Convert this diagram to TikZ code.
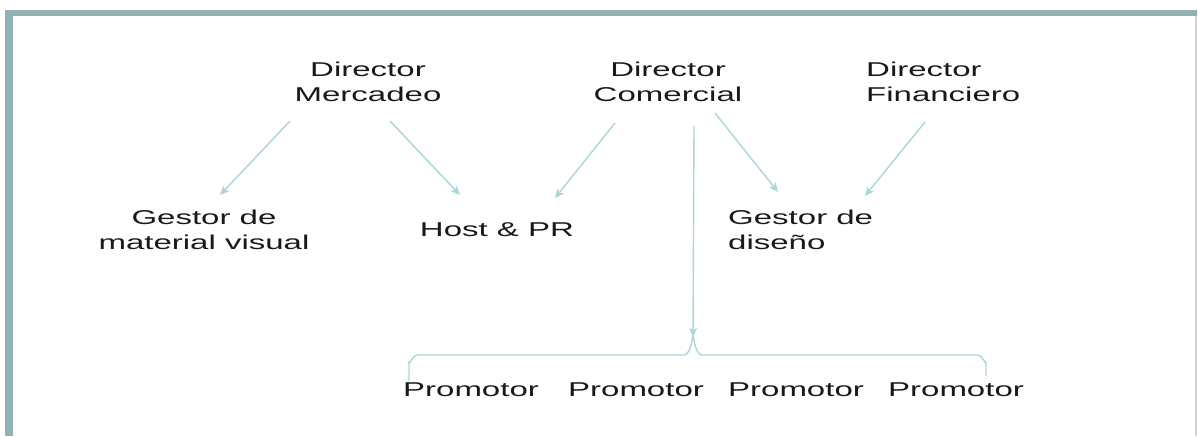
\documentclass[tikz,border=0pt]{standalone}
\usepackage{fontspec}
\setmainfont{Liberation Sans}[FakeStretch=1.65]
\usetikzlibrary{arrows.meta}
\definecolor{framec}{HTML}{92B1B4}
\definecolor{linkc}{HTML}{A9D7DC}

\begin{document}
\begin{tikzpicture}[x=1pt,y=-1pt,
  lbl/.style={inner sep=0pt,text=black!90,font=\fontsize{20}{25}\selectfont},
  link/.style={draw=linkc,line width=1.4pt,-{Stealth[length=9pt,width=8pt,inset=2pt]}}]
\useasboundingbox (0,0) rectangle (1198,436);
\fill[white] (0,0) rectangle (1198,436);
% frame
\fill[framec] (5,10) rectangle (1197,16);
\fill[framec] (5,10) rectangle (13,436);
\draw[black!18,line width=1.5pt] (1196,16) -- (1196,436);
% directors
\node[lbl,align=center] (dm) at (368,82) {Director\\Mercadeo};
\node[lbl,align=center] (dc) at (668,82) {Director\\Comercial};
\node[lbl,align=left,anchor=west] (df) at (866,82) {Director\\Financiero};
% second row
\node[lbl,align=center] (gm) at (204,230) {Gestor de\\material visual};
\node[lbl] (hp) at (497,230) {Host \& PR};
\node[lbl,align=left,anchor=west] (gd) at (728,230) {Gestor de\\diseño};
% promotores
\foreach \x/\n in {471/1,636/2,796/3,956/4}
  \node[lbl] (p\n) at (\x,390) {Promotor};
\coordinate (bt) at (693,337);
% links
\draw[link] ([shift={(-78,39)}]dm.center) -- ([shift={(16,-35)}]gm.center);
\draw[link] ([shift={(22,39)}]dm.center) -- ([shift={(-37,-35)}]hp.center);
\draw[link] ([shift={(-53,41)}]dc.center) -- ([shift={(58,-32)}]hp.center);
\draw[link] ([shift={(47,31)}]dc.center) -- ([shift={(50,-38)}]gd.west);
\draw[link] ([shift={(59,40)}]df.west) -- ([shift={(137,-34)}]gd.west);
\draw[link] ([shift={(26,44)}]dc.center) -- (bt);
% brace
\draw[linkc,line width=1.4pt] (409,381) -- (409,362) to[out=-90,in=180] (417,355)
  -- (684,355) to[out=0,in=90] (bt) to[out=90,in=180] (702,355)
  -- (978,355) to[out=0,in=-90] (986,362) -- (986,376);
\end{tikzpicture}
\end{document}
